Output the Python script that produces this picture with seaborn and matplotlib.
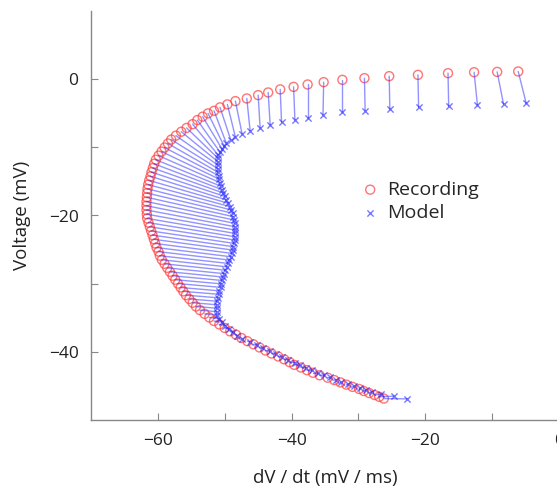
import numpy as np
import pandas as pd
import matplotlib
matplotlib.use("Agg")
import matplotlib.pyplot as plt
import seaborn as sns

# --- data (dV/dt in mV/ms, V in mV) ---
rec_dvdt = [-6.1, -9.25, -12.7, -16.6, -21.1, -25.4, -29.1, -32.4, -35.2, -37.6,
            -39.7, -41.7, -43.5, -45.0, -46.7, -48.4, -49.6, -50.7, -51.6, -52.5,
            -53.3, -54.1, -54.8, -55.7, -56.5, -57.3, -58.0, -58.5, -59.0, -59.45,
            -59.9, -60.3, -60.55, -60.75, -60.95, -61.1, -61.3, -61.45, -61.55, -61.6,
            -61.65, -61.7, -61.7, -61.7, -61.65, -61.6, -61.4, -61.2, -61.0, -60.8,
            -60.6, -60.4, -60.2, -59.9, -59.7, -59.4, -59.0, -58.6, -58.2, -57.8,
            -57.4, -57.0, -56.6, -56.2, -55.8, -55.3, -54.8, -54.3, -53.7, -53.0,
            -52.3, -51.6, -50.8, -50.0, -49.2, -48.3, -47.5, -46.6, -45.7, -44.8,
            -43.9, -43.0, -42.0, -41.1, -40.3, -39.6, -38.6, -37.7, -36.8, -35.8,
            -34.6, -33.6, -32.7, -31.8, -30.9, -29.9, -29.2, -28.4, -27.6, -26.9,
            -26.2]
rec_v = [1.13, 1.07, 1.02, 0.88, 0.63, 0.44, 0.15, -0.1, -0.44, -0.78,
         -1.13, -1.5, -1.95, -2.34, -2.83, -3.22, -3.7, -4.14, -4.64, -5.02,
         -5.5, -6.0, -6.6, -7.15, -7.71, -8.28, -8.86, -9.44, -10.03, -10.62,
         -11.22, -11.82, -12.42, -13.03, -13.64, -14.25, -14.86, -15.47, -16.09, -16.71,
         -17.33, -17.95, -18.57, -19.19, -19.81, -20.43, -21.05, -21.66, -22.27, -22.88,
         -23.49, -24.1, -24.7, -25.3, -25.9, -26.5, -27.09, -27.68, -28.26, -28.84,
         -29.42, -29.99, -30.56, -31.13, -31.69, -32.25, -32.8, -33.35, -33.89, -34.43,
         -34.96, -35.48, -35.99, -36.5, -37.0, -37.49, -37.97, -38.44, -38.9, -39.36,
         -39.81, -40.25, -40.68, -41.1, -41.51, -41.91, -42.3, -42.69, -43.07, -43.44,
         -43.8, -44.15, -44.49, -44.82, -45.14, -45.45, -45.75, -46.04, -46.33, -46.6,
         -46.86]

mod_dvdt = [-4.9, -8.3, -12.2, -16.5, -21.0, -25.3, -29.0, -32.4, -35.3, -37.6,
            -39.5, -41.5, -43.2, -44.7, -46.2, -47.4, -48.4, -49.1, -49.8, -50.1,
            -50.4, -50.7, -51.0, -51.0, -51.0, -51.0, -51.0, -51.0, -50.9, -50.8,
            -50.7, -50.6, -50.4, -50.2, -50.0, -49.8, -49.5, -49.2, -49.0, -48.8,
            -48.7, -48.6, -48.5, -48.5, -48.5, -48.5, -48.5, -48.5, -48.6, -48.7,
            -48.8, -48.9, -49.1, -49.3, -49.5, -49.7, -49.9, -50.1, -50.3, -50.4,
            -50.5, -50.6, -50.8, -50.9, -51.0, -51.1, -51.2, -51.2, -51.2, -51.2,
            -50.8, -50.4, -49.9, -49.3, -48.7, -48.1, -47.4, -46.2, -45.2, -44.2,
            -43.3, -42.4, -41.5, -40.5, -39.5, -38.7, -37.8, -36.9, -36.0, -35.1,
            -34.2, -33.4, -32.6, -31.6, -30.6, -29.7, -28.8, -27.9, -26.6, -24.7,
            -22.7]
mod_v = [-3.56, -3.66, -3.8, -3.95, -4.14, -4.4, -4.64, -4.88, -5.23, -5.64,
         -6.0, -6.3, -6.73, -7.2, -7.57, -8.05, -8.5, -8.9, -9.3, -9.8,
         -10.25, -10.7, -11.1, -11.61, -12.12, -12.63, -13.14, -13.65, -14.16, -14.67,
         -15.18, -15.69, -16.2, -16.7, -17.2, -17.7, -18.2, -18.7, -19.19, -19.68,
         -20.17, -20.66, -21.15, -21.64, -22.13, -22.62, -23.11, -23.6, -24.09, -24.58,
         -25.07, -25.56, -26.05, -26.54, -27.03, -27.53, -28.03, -28.53, -29.03, -29.53,
         -30.03, -30.54, -31.05, -31.56, -32.07, -32.58, -33.09, -33.6, -34.11, -34.62,
         -35.13, -35.64, -36.14, -36.64, -37.13, -37.61, -38.09, -38.56, -39.02, -39.47,
         -39.91, -40.34, -40.76, -41.17, -41.57, -41.96, -42.34, -42.71, -43.07, -43.42,
         -43.76, -44.09, -44.41, -44.72, -45.02, -45.31, -45.59, -45.86, -46.2, -46.5,
         -46.9]

x_ticks = [-60, -50, -40, -30, -20, -10, 0]
x_ticklabels = ["\u221260", "", "\u221240", "", "\u221220", "", "0"]
y_ticks = [-40, -30, -20, -10, 0]
y_ticklabels = ["\u221240", "", "\u221220", "", "0"]

sns.set_style("ticks", {"xtick.direction": "in", "ytick.direction": "in"})
plt.rcParams["font.family"] = ["Open Sans", "DejaVu Sans"]

fig = plt.figure(figsize=(5.57, 4.9), dpi=100)
ax = fig.add_axes([91 / 557, 70 / 490, 468 / 557, 409 / 490])

rec = pd.DataFrame({"dvdt": rec_dvdt, "v": rec_v})
mod = pd.DataFrame({"dvdt": mod_dvdt, "v": mod_v})

# red recording circles
sns.scatterplot(data=rec, x="dvdt", y="v", marker="o", s=42, ax=ax,
                facecolors="none", edgecolor="#ff3b3b", linewidth=1.0, alpha=0.7,
                label="Recording", zorder=2)
# lines joining each recorded point to its model point
ax.plot(np.vstack([rec["dvdt"], mod["dvdt"]]), np.vstack([rec["v"], mod["v"]]),
        color="#3a3aff", lw=1.0, alpha=0.55, zorder=3)
sns.scatterplot(data=mod, x="dvdt", y="v", marker="x", s=20, ax=ax,
                color="#2020ff", linewidth=1.0, alpha=0.6, label="Model", zorder=4)

ax.set_xlim(-70, 0)
ax.set_ylim(-50, 10)
ax.set_xticks(x_ticks)
ax.set_xticklabels(x_ticklabels)
ax.set_yticks(y_ticks)
ax.set_yticklabels(y_ticklabels)
ax.tick_params(direction="in", length=5, width=0.8, color="#888888",
               labelsize=12.5, labelcolor="#222222", pad=9,
               bottom=True, left=True)
for side in ["top", "right"]:
    ax.spines[side].set_visible(False)
for side in ["left", "bottom"]:
    ax.spines[side].set_color("#888888")
    ax.spines[side].set_linewidth(1.0)

ax.set_xlabel("dV / dt (mV / ms)", fontsize=13.5, color="#222222", labelpad=15)
ax.set_ylabel("Voltage (mV)", fontsize=13.5, color="#222222", labelpad=13)

ax.legend(loc="center left", bbox_to_anchor=(0.582, 0.535), frameon=False,
          fontsize=14, borderpad=0, handlelength=0.7, handletextpad=0.5,
          labelspacing=0.25, borderaxespad=0)

fig.savefig("out.png", dpi=100)
